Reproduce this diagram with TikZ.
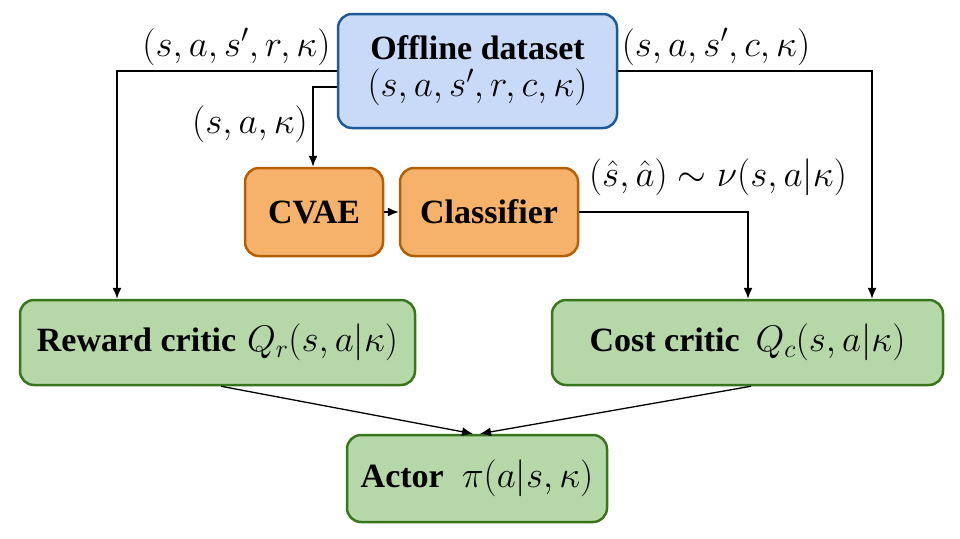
\documentclass[tikz,border=0pt]{standalone}
\usepackage{fix-cm}
\usepackage[no-math]{fontspec}
\setmainfont{Liberation Serif}
\usetikzlibrary{arrows.meta,calc}
\definecolor{bfill}{HTML}{C9DAF8}
\definecolor{bdraw}{HTML}{1C5A9A}
\definecolor{ofill}{HTML}{F6B26B}
\definecolor{odraw}{HTML}{B45F06}
\definecolor{gfill}{HTML}{B6D7A8}
\definecolor{gdraw}{HTML}{38761D}
\newcommand\mth[1]{{\fontsize{37}{40}\selectfont$#1$}}
\tikzset{
  box/.style={rounded corners=14pt, line width=2.5pt, align=center, inner sep=0pt,
    font=\fontsize{34}{36}\selectfont},
  bluebox/.style={box, fill=bfill, draw=bdraw},
  orangebox/.style={box, fill=ofill, draw=odraw},
  greenbox/.style={box, fill=gfill, draw=gdraw},
  conn/.style={line width=1.3pt, -{Latex[length=11pt,width=9pt]}},
  lbl/.style={inner sep=0pt, font=\fontsize{37}{40}\selectfont}
}
\begin{document}
\begin{tikzpicture}[x=1pt,y=-1pt]
\useasboundingbox (0,0) rectangle (960,538);
\node[bluebox, minimum width=279pt, minimum height=114pt] (off) at (477.5,71)
  {\textbf{Offline dataset}\\[1pt]\mth{(s,a,s',r,c,\kappa)}};
\node[orangebox, minimum width=138pt, minimum height=88pt] (cvae) at (314,212) {\textbf{CVAE}};
\node[orangebox, minimum width=178pt, minimum height=88pt] (cls) at (489,212) {\textbf{Classifier}};
\node[greenbox, minimum width=395pt, minimum height=85pt] (rew) at (217.5,342.5)
  {\textbf{Reward critic}\hspace{11pt}\mth{Q_r(s,a|\kappa)}};
\node[greenbox, minimum width=391pt, minimum height=85pt] (cost) at (747.5,342.5)
  {\textbf{Cost critic}\hspace{16pt}\mth{Q_c(s,a|\kappa)}};
\node[greenbox, minimum width=260pt, minimum height=87pt] (act) at (477,478.5)
  {\textbf{Actor}\hspace{18pt}\mth{\pi(a|s,\kappa)}};

\draw[conn] (off.west) -| ([xshift=-100.5pt]rew.north);
\draw[conn] ([yshift=-16pt]off.west) -| ([xshift=-1pt]cvae.north);
\draw[conn] (off.east) -| ([xshift=124.5pt]cost.north);
\draw[conn] (cvae.east) -- (cls.west);
\draw[conn] (cls.east) -| ([xshift=0.5pt]cost.north);
\draw[conn] ([xshift=3.5pt]rew.south) -- ([xshift=-4pt]act.north);
\draw[conn] ([xshift=3.5pt]cost.south) -- ([xshift=3pt]act.north);

\node[lbl] (l1) at (236.5,47) {$(s,a,s',r,\kappa)$};
\node[lbl] (l2) at (716,47) {$(s,a,s',c,\kappa)$};
\node[lbl] (l3) at (250,124) {$(s,a,\kappa)$};
\node[lbl] (l4) at (718,177) {$(\hat{s},\hat{a})\sim\nu(s,a|\kappa)$};
\end{tikzpicture}
\end{document}
